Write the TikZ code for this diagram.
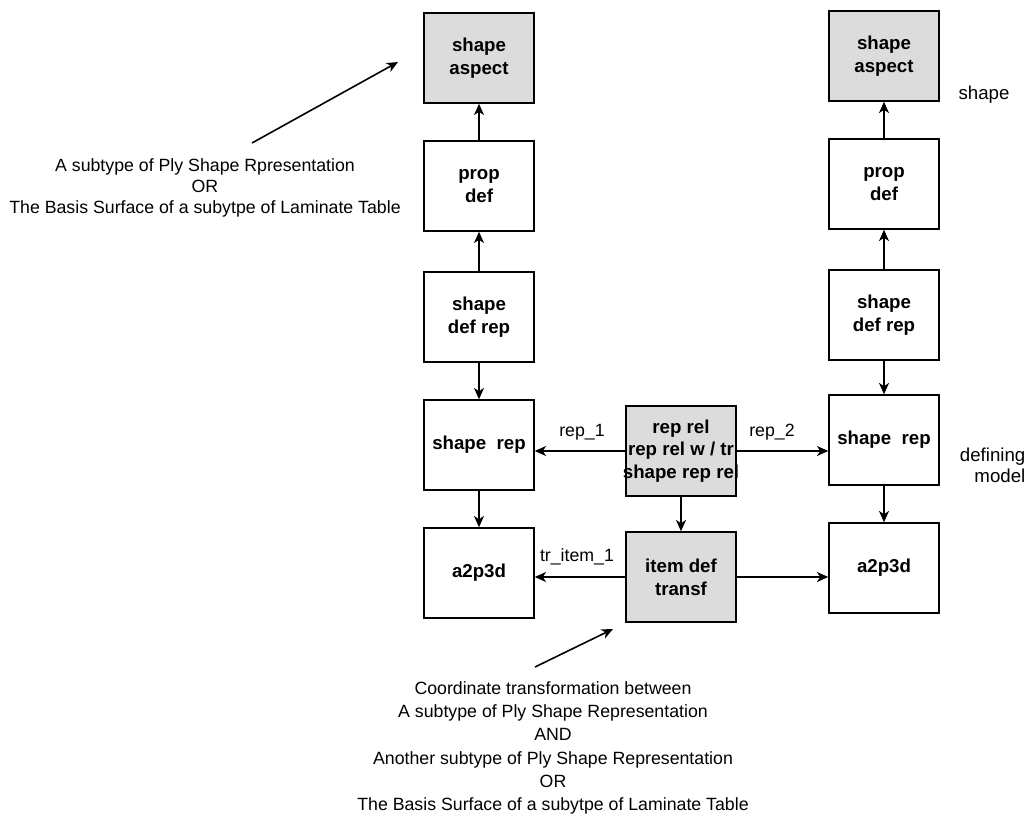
\documentclass[tikz,border=0pt]{standalone}
\usepackage{fontspec}
\setmainfont{Liberation Sans}
\usetikzlibrary{arrows.meta}
\definecolor{boxgrey}{RGB}{220,220,220}

\begin{document}
\begin{tikzpicture}[x=0.75pt, y=-0.75pt,
	box/.style={draw, line width=1.6pt, minimum width=82pt, minimum height=67pt, inner sep=0pt, align=center, font=\bfseries\fontsize{14}{17}\selectfont},
	greybox/.style={box, fill=boxgrey},
	arr/.style={-{Stealth[length=8.5pt,width=7.5pt,inset=2.5pt]}, line width=1.2pt},
	lbl/.style={font=\fontsize{13.3}{16}\selectfont},
	side/.style={font=\fontsize{14}{16}\selectfont},
	note/.style={align=center, font=\fontsize{13.3}{16}\selectfont}]
	
	\useasboundingbox (0,0) rectangle (1031,833);
	
	%left column
	\node[greybox] (sa1) at (479,58){shape\\aspect};
	\node[box] (pd1) at (479,186){prop\\def};
	\node[box] (sdr1) at (479,317){shape\\def rep};
	\node[box] (sr1) at (479,445){shape~ rep};
	\node[box] (a1) at (479,573){a2p3d};
	
	%middle
	\node[greybox] (rr) at (681,451){\makebox[0pt]{rep rel}\\\makebox[0pt]{rep rel w / tr}\\\makebox[0pt]{shape rep rel}};
	\node[greybox] (idt) at (681,577){item def\\transf};
	
	%right column
	\node[greybox] (sa2) at (884,56){shape\\aspect};
	\node[box] (pd2) at (884,184){prop\\def};
	\node[box] (sdr2) at (884,315){shape\\def rep};
	\node[box] (sr2) at (884,440){shape~ rep};
	\node[box] (a2) at (884,568){a2p3d};
	
	%labels
	\node[lbl] (rep1) at (582,432){rep\_1};
	\node[lbl] (rep2) at (772,432){rep\_2};
	\node[lbl] (tritem) at (577,557){tr\_item\_1};
	\node[side] (shp) at (984,95){shape};
	\node[side, align=right, anchor=east] (defm) at (1030,465){defining\\model};
	
	%notes
	\node[note] (note1) at (205,188){A subtype of Ply Shape Rpresentation\\OR\\The Basis Surface of a subytpe of Laminate Table};
	\node[note, font=\fontsize{13.3}{17.5}\selectfont] (note2) at (553,748){Coordinate transformation between\\A subtype of Ply Shape Representation\\AND\\Another subtype of Ply Shape Representation\\OR\\The Basis Surface of a subytpe of Laminate Table};
	\coordinate (n1a) at (252,143);
	\coordinate (n1b) at (398,62);
	\coordinate (n2a) at (535,667);
	\coordinate (n2b) at (613,629);
	
	\draw[arr] (pd1.north) -- (sa1.south);
	\draw[arr] (sdr1.north) -- (pd1.south);
	\draw[arr] (sdr1.south) -- (sr1.north);
	\draw[arr] (sr1.south) -- (a1.north);
	
	\draw[arr] (pd2.north) -- (sa2.south);
	\draw[arr] (sdr2.north) -- (pd2.south);
	\draw[arr] (sdr2.south) -- (sr2.north);
	\draw[arr] (sr2.south) -- (a2.north);
	
	\draw[arr] (rr.west) -- (rr.west -| sr1.east);
	\draw[arr] (rr.east) -- (rr.east -| sr2.west);
	\draw[arr] (rr.south) -- (idt.north);
	\draw[arr] (idt.west) -- (idt.west -| a1.east);
	\draw[arr] (idt.east) -- (idt.east -| a2.west);
	
	\draw[arr] (n1a) -- (n1b);
	\draw[arr] (n2a) -- (n2b);
	
\end{tikzpicture}
\end{document}
